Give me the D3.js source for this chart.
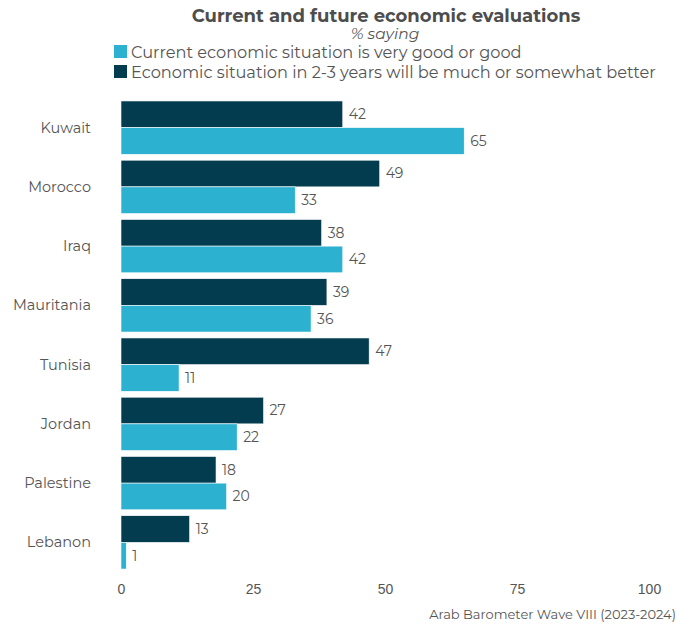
<!DOCTYPE html>
<html>
<head>
<meta charset="utf-8">
<script src="https://cdn.jsdelivr.net/npm/d3@7"></script>
<style>
  html, body { margin: 0; padding: 0; background: #fff; }
  svg { display: block; font-family: Montserrat, "Open Sans", sans-serif; }
</style>
</head>
<body>
<svg id="chart" width="677" height="624"></svg>
<script>
// Countries, top to bottom
const countries = ["Kuwait", "Morocco", "Iraq", "Mauritania", "Tunisia", "Jordan", "Palestine", "Lebanon"];
// Economic situation in 2-3 years will be much or somewhat better (%)
const futureBetter = [42, 49, 38, 39, 47, 27, 18, 13];
// Current economic situation is very good or good (%)
const currentGood = [65, 33, 42, 36, 11, 22, 20, 1];
const seriesKeys = ["future", "current"];
const seriesLabels = {
  current: "Current economic situation is very good or good",
  future: "Economic situation in 2-3 years will be much or somewhat better"
};
const xTicks = [0, 25, 50, 75, 100];

const colors = { current: "#2cb1d0", future: "#033c4e" };
const textGray = "#555";

const rows = countries.map((c, i) => ({ country: c, future: futureBetter[i], current: currentGood[i] }));

const svg = d3.select("#chart");

const x = d3.scaleLinear().domain([0, 100]).range([121, 649]);
const y = d3.scaleBand().domain(countries).range([98, 572]).paddingInner(0.1).paddingOuter(0.05);
const ySub = d3.scaleBand().domain(seriesKeys).range([0, y.bandwidth()]).padding(0);

// Title block
svg.append("text")
  .attr("x", 386).attr("y", 22)
  .attr("text-anchor", "middle")
  .attr("font-size", 18).attr("font-weight", "bold")
  .attr("fill", "#4d4d4d")
  .text("Current and future economic evaluations");
svg.append("text")
  .attr("x", 385).attr("y", 39)
  .attr("text-anchor", "middle")
  .attr("font-size", 15.5).attr("font-style", "italic")
  .attr("fill", textGray)
  .text("% saying");

// Legend
const legend = svg.append("g");
["current", "future"].forEach((k, i) => {
  const g = legend.append("g").attr("transform", `translate(114, ${45 + i * 20})`);
  g.append("rect").attr("width", 13).attr("height", 13).attr("fill", colors[k]);
  g.append("text").attr("x", 17).attr("y", 12.5)
    .attr("font-size", 16.2).attr("fill", textGray)
    .text(seriesLabels[k]);
});

// Bars
const groups = svg.append("g").selectAll("g")
  .data(rows).join("g")
  .attr("transform", d => `translate(0, ${y(d.country)})`);

groups.selectAll("rect")
  .data(d => seriesKeys.map(k => ({ key: k, value: d[k] })))
  .join("rect")
  .attr("x", x(0))
  .attr("y", d => ySub(d.key))
  .attr("width", d => x(d.value) - x(0))
  .attr("height", ySub.bandwidth())
  .attr("fill", d => colors[d.key])
  .attr("stroke", "#fff").attr("stroke-width", 0.6);

groups.selectAll("text.val")
  .data(d => seriesKeys.map(k => ({ key: k, value: d[k] })))
  .join("text")
  .attr("class", "val")
  .attr("x", d => x(d.value) + 6)
  .attr("y", d => ySub(d.key) + ySub.bandwidth() / 2)
  .attr("dy", "0.35em")
  .attr("font-size", 14).attr("fill", textGray)
  .text(d => d.value);

// Country labels
svg.append("g").selectAll("text")
  .data(countries).join("text")
  .attr("x", 91)
  .attr("y", d => y(d) + y.bandwidth() / 2)
  .attr("dy", "0.35em")
  .attr("text-anchor", "end")
  .attr("font-size", 14.5).attr("fill", textGray)
  .text(d => d);

// X axis (labels only)
const xAxis = svg.append("g")
  .attr("transform", "translate(0, 578)")
  .call(d3.axisBottom(x).tickValues(xTicks).tickSize(0).tickPadding(0));
xAxis.select(".domain").remove();
xAxis.selectAll("text")
  .attr("dy", "0.71em")
  .attr("y", 6)
  .attr("font-size", 14).attr("fill", textGray)
  .style("font-family", "inherit");

// Source
svg.append("text")
  .attr("x", 676).attr("y", 619)
  .attr("text-anchor", "end")
  .attr("font-size", 13).attr("fill", textGray)
  .text("Arab Barometer Wave VIII (2023-2024)");
</script>
</body>
</html>
